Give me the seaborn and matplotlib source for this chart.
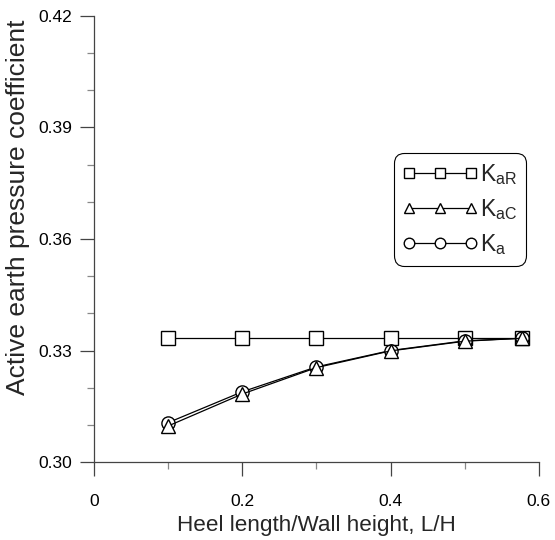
import matplotlib
matplotlib.use("Agg")
import matplotlib.pyplot as plt
import numpy as np
import pandas as pd
import seaborn as sns
from matplotlib.ticker import MultipleLocator

heel_ratio = [0.1, 0.2, 0.3, 0.4, 0.5, 0.577]
ka_r = [0.3333, 0.3333, 0.3333, 0.3333, 0.3333, 0.3333]
ka_c = [0.3097, 0.3183, 0.3254, 0.3299, 0.3325, 0.3333]
ka = [0.3106, 0.3189, 0.3256, 0.3300, 0.3326, 0.3333]

sns.set_style("ticks")
plt.rcParams["font.family"] = ["Liberation Sans", "DejaVu Sans"]
plt.rcParams["mathtext.fontset"] = "custom"
plt.rcParams["mathtext.rm"] = "Liberation Sans"
plt.rcParams["mathtext.it"] = "Liberation Sans"

fig = plt.figure(figsize=(5.55, 5.4), dpi=100)
ax = fig.add_axes([0.1694, 0.1444, 0.8016, 0.826])

series = [
    (ka_r, "s", r"K$_{\mathrm{aR}}$"),
    (ka, "o", r"K$_{\mathrm{a}}$"),
    (ka_c, "^", r"K$_{\mathrm{aC}}$"),
]
for values, marker, label in series:
    sns.lineplot(
        x=heel_ratio, y=values, ax=ax, color="black", linewidth=0.9,
        marker=marker, markersize=9.5, markerfacecolor="white",
        markeredgecolor="black", markeredgewidth=1.0, label=label,
    )

ax.set_xlim(0, 0.6)
ax.set_ylim(0.30, 0.42)
ax.xaxis.set_major_locator(MultipleLocator(0.2))
ax.xaxis.set_minor_locator(MultipleLocator(0.1))
ax.yaxis.set_major_locator(MultipleLocator(0.03))
ax.yaxis.set_minor_locator(MultipleLocator(0.01))
ax.xaxis.set_major_formatter(plt.FuncFormatter(lambda v, p: "0" if abs(v) < 1e-9 else f"{v:.1f}"))
ax.yaxis.set_major_formatter(plt.FuncFormatter(lambda v, p: f"{v:.2f}"))
ax.tick_params(which="major", direction="out", length=10, width=0.9, colors="#444444",
               labelcolor="black", labelsize=12.5)
ax.tick_params(which="minor", direction="out", length=5, width=0.9, colors="#888888")
ax.tick_params(axis="x", which="major", pad=13)
ax.tick_params(axis="y", which="major", pad=6)
for side in ["top", "right"]:
    ax.spines[side].set_visible(False)
for side in ["left", "bottom"]:
    ax.spines[side].set_linewidth(0.9)
    ax.spines[side].set_color("#444444")

ax.set_xlabel("Heel length/Wall height, L/H", fontsize=16.2, labelpad=4)
ax.set_ylabel("Active earth pressure coefficient", fontsize=19)
ax.yaxis.set_label_coords(-0.145, 0.572)

handles, labels = ax.get_legend_handles_labels()
order = [0, 2, 1]
leg = ax.legend(
    [handles[i] for i in order], [labels[i] for i in order],
    loc="upper left", bbox_to_anchor=(0.674, 0.693), borderaxespad=0,
    numpoints=3, markerscale=0.8, handlelength=3.3, fontsize=16.5,
    frameon=True, fancybox=True, edgecolor="black", framealpha=1,
    handletextpad=0.1, labelspacing=0.45, borderpad=0.38,
)
leg.get_frame().set_linewidth(0.8)
leg.get_frame().set_boxstyle("round,pad=0,rounding_size=0.45")

fig.savefig("out.png", dpi=100)
